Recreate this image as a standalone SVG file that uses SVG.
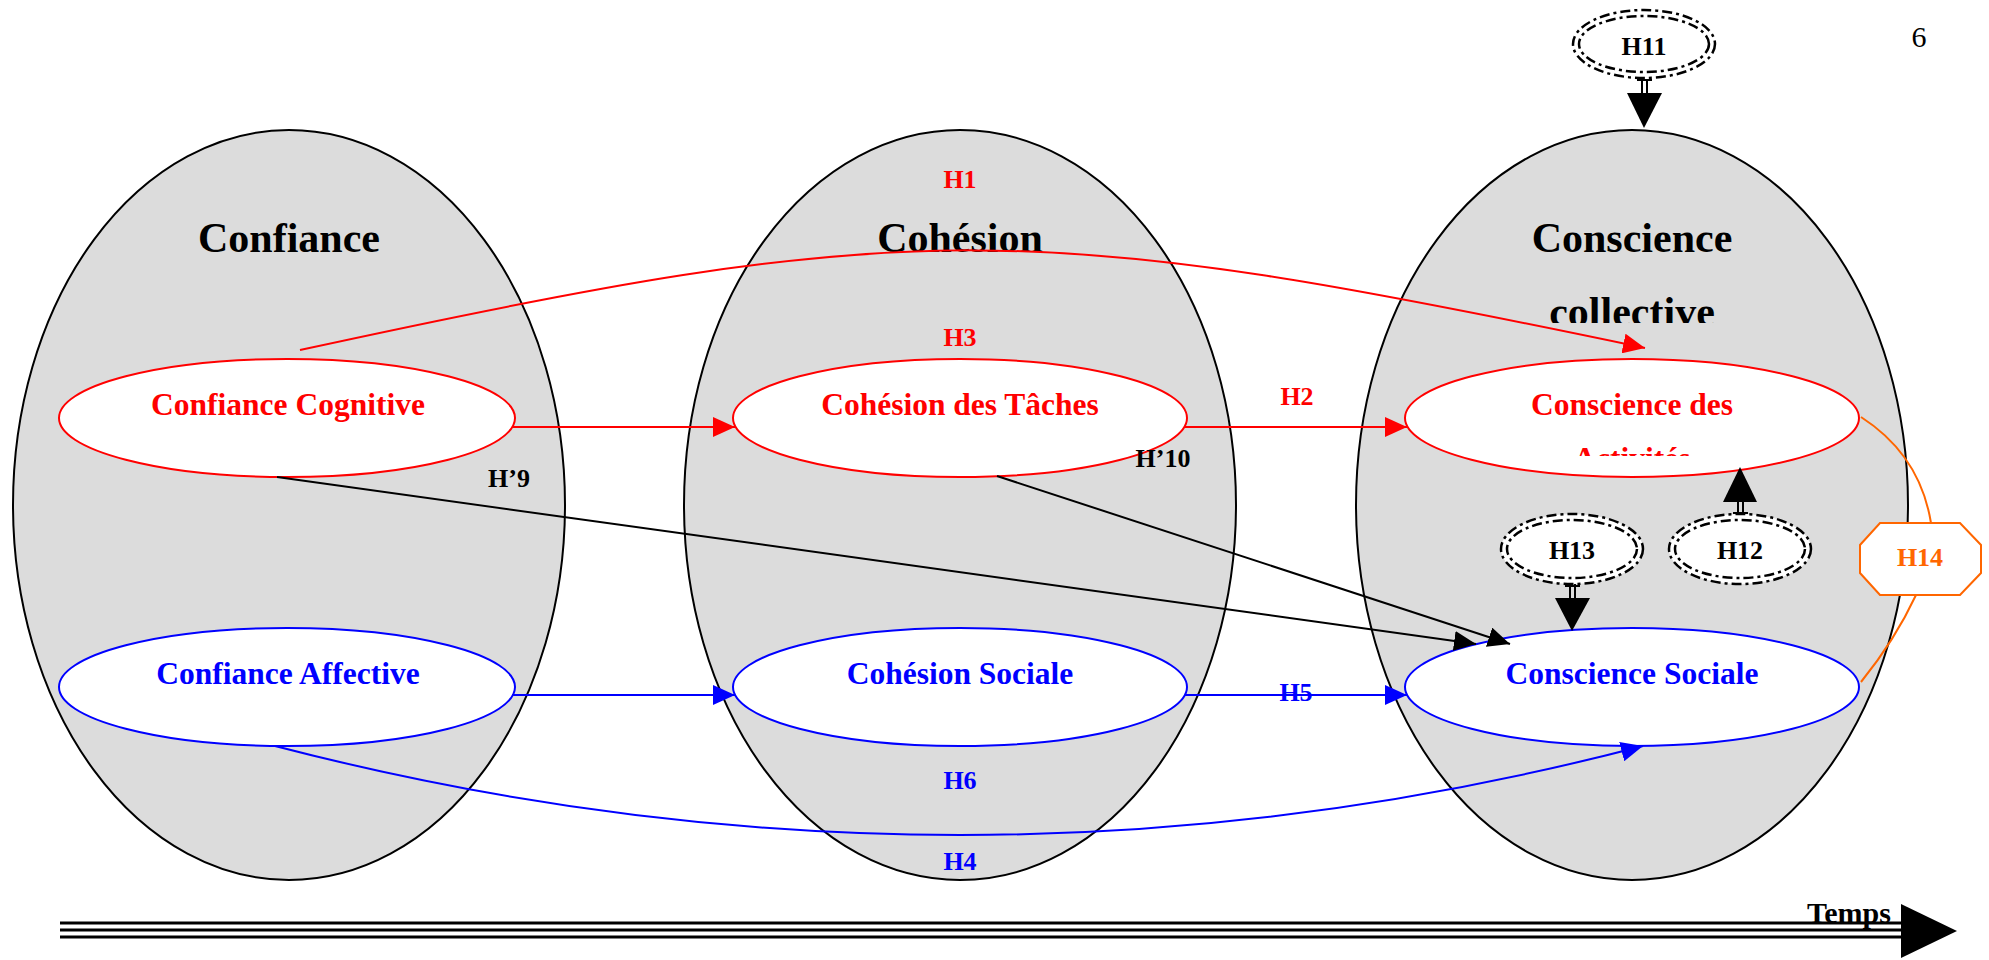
<svg xmlns="http://www.w3.org/2000/svg" width="1989" height="960" viewBox="0 0 1989 960">
<defs>
<style>
.big{fill:#DCDCDC;stroke:#000;stroke-width:2}
.title{font-family:"Liberation Serif","Times New Roman",serif;font-weight:bold;font-size:42px;text-anchor:middle;fill:#000}
.lbl{font-family:"Liberation Serif","Times New Roman",serif;font-weight:bold;font-size:31.5px;text-anchor:middle}
.h{font-family:"Liberation Serif","Times New Roman",serif;font-weight:bold;font-size:26px;text-anchor:middle}
.tR{fill:#FF0000}.tB{fill:#0000FF}.tK{fill:#000}.tO{fill:#FF6600}
.nR{fill:#fff;stroke:#FF0000;stroke-width:2}
.nB{fill:#fff;stroke:#0000FF;stroke-width:2}
.hyp{fill:#fff;stroke:#000;stroke-width:2.5;stroke-dasharray:10 4 3 4}
.hypIn{fill:none;stroke:#000;stroke-width:2.5;stroke-dasharray:10 4 3 4}
.cR{fill:none;stroke:#FF0000;stroke-width:2}
.cB{fill:none;stroke:#0000FF;stroke-width:2}
.cK{fill:none;stroke:#000;stroke-width:2}
.cO{fill:none;stroke:#FF6600;stroke-width:2}
.stub{stroke:#000;stroke-width:2;fill:none}
</style>
<marker id="aR" markerUnits="userSpaceOnUse" markerWidth="24" markerHeight="20" refX="22" refY="10" orient="auto"><path d="M0,0 L22,10 L0,20 z" fill="#FF0000"/></marker>
<marker id="aB" markerUnits="userSpaceOnUse" markerWidth="24" markerHeight="20" refX="22" refY="10" orient="auto"><path d="M0,0 L22,10 L0,20 z" fill="#0000FF"/></marker>
<marker id="aK" markerUnits="userSpaceOnUse" markerWidth="24" markerHeight="20" refX="22" refY="10" orient="auto"><path d="M0,0 L22,10 L0,20 z" fill="#000"/></marker>
<clipPath id="clipColl"><rect x="1356" y="0" width="560" height="323"/></clipPath>
<clipPath id="clipAct"><rect x="1400" y="370" width="470" height="86"/></clipPath>
</defs>
<rect width="1989" height="960" fill="#fff"/>

<g id="confiance">
<ellipse class="big" cx="289" cy="505" rx="276" ry="375"/>
<text class="title" x="289" y="252">Confiance</text>
</g>
<g id="cohesion">
<ellipse class="big" cx="960" cy="505" rx="276" ry="375"/>
<text class="title" x="960" y="252">Cohésion</text>
</g>
<g id="conscience">
<ellipse class="big" cx="1632" cy="505" rx="276" ry="375"/>
<text class="title" x="1632" y="252">Conscience</text>
<text class="title" x="1632" y="326" clip-path="url(#clipColl)">collective</text>
</g>

<g id="confiance-cognitive">
<ellipse class="nR" cx="287" cy="418" rx="228" ry="59"/>
<text class="lbl tR" x="288" y="415">Confiance Cognitive</text>
</g>
<g id="confiance-affective">
<ellipse class="nB" cx="287" cy="687" rx="228" ry="59"/>
<text class="lbl tB" x="288" y="684">Confiance Affective</text>
</g>
<g id="cohesion-taches">
<ellipse class="nR" cx="960" cy="418" rx="227" ry="59"/>
<text class="lbl tR" x="960" y="415">Cohésion des Tâches</text>
</g>
<g id="cohesion-sociale">
<ellipse class="nB" cx="960" cy="687" rx="227" ry="59"/>
<text class="lbl tB" x="960" y="684">Cohésion Sociale</text>
</g>
<g id="conscience-activites">
<ellipse class="nR" cx="1632" cy="418" rx="227" ry="59"/>
<text class="lbl tR" x="1632" y="415">Conscience des</text>
<text class="lbl tR" x="1632" y="469" clip-path="url(#clipAct)">Activités</text>
</g>
<g id="conscience-sociale">
<ellipse class="nB" cx="1632" cy="687" rx="227" ry="59"/>
<text class="lbl tB" x="1632" y="684">Conscience Sociale</text>
</g>

<g id="connectors">
<path class="cR" d="M300,350 C915,216 1030,219 1645,348" marker-end="url(#aR)"/>
<path class="cR" d="M512,427 L735,427" marker-end="url(#aR)"/>
<path class="cR" d="M1185,427 L1407,427" marker-end="url(#aR)"/>
<path class="cB" d="M512,695 L735,695" marker-end="url(#aB)"/>
<path class="cB" d="M1185,695 L1407,695" marker-end="url(#aB)"/>
<path class="cB" d="M275,746 Q961,924 1643,746" marker-end="url(#aB)"/>
<path class="cK" d="M277,477 L1476,644" marker-end="url(#aK)"/>
<path class="cK" d="M997,476 L1510,644" marker-end="url(#aK)"/>
<path class="cO" d="M1861,417 Q1920,455 1931,523"/>
<path class="cO" d="M1916,595 Q1895,640 1861,682"/>
<g id="h11-link">
<path class="stub" d="M1642,80 V93 M1647,80 V93 M1637,80 H1652"/>
<path d="M1627,93 L1662,93 L1644,128 z" fill="#000"/>
</g>
<g id="h12-link">
<path class="stub" d="M1738,502 V515 M1743,502 V515 M1733,513 H1748"/>
<path d="M1723,502 L1757,502 L1740,467 z" fill="#000"/>
</g>
<g id="h13-link">
<path class="stub" d="M1570,584 V598 M1575,584 V598 M1565,586 H1580"/>
<path d="M1555,598 L1590,598 L1572,631 z" fill="#000"/>
</g>
</g>

<g id="labels">
<text class="h tR" x="960" y="188">H1</text>
<text class="h tR" x="960" y="346">H3</text>
<text class="h tR" x="1297" y="405">H2</text>
<text class="h tK" x="509" y="487">H’9</text>
<text class="h tK" x="1163" y="467">H’10</text>
<text class="h tB" x="1296" y="701">H5</text>
<text class="h tB" x="960" y="789">H6</text>
<text class="h tB" x="960" y="870">H4</text>
</g>

<g id="h11">
<ellipse class="hyp" cx="1644" cy="44" rx="71" ry="34"/>
<ellipse class="hypIn" cx="1644" cy="44" rx="65" ry="28"/>
<text class="h tK" x="1644" y="55">H11</text>
</g>
<g id="h12">
<ellipse class="hyp" cx="1740" cy="549" rx="71" ry="35"/>
<ellipse class="hypIn" cx="1740" cy="549" rx="65" ry="29"/>
<text class="h tK" x="1740" y="559">H12</text>
</g>
<g id="h13">
<ellipse class="hyp" cx="1572" cy="549" rx="71" ry="35"/>
<ellipse class="hypIn" cx="1572" cy="549" rx="65" ry="29"/>
<text class="h tK" x="1572" y="559">H13</text>
</g>
<g id="h14">
<polygon points="1880,523 1960,523 1981,545 1981,573 1960,595 1880,595 1860,573 1860,545" fill="#fff" stroke="#FF6600" stroke-width="2"/>
<text class="h tO" x="1920" y="566">H14</text>
</g>

<g id="temps">
<path d="M60,923 H1903 M60,930 H1903 M60,937 H1903" stroke="#000" stroke-width="3"/>
<path d="M1901,904 L1957,931 L1901,958 z" fill="#000"/>
<text class="h tK" x="1849" y="923" style="font-size:30px">Temps</text>
</g>
<text x="1919" y="47" style="font-family:'Liberation Serif','Times New Roman',serif;font-size:30px;text-anchor:middle" fill="#000">6</text>
</svg>
